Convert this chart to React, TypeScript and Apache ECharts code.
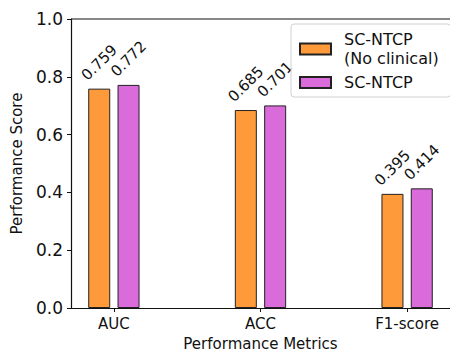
import React, { useEffect, useRef } from "react";
import * as echarts from "echarts";

const categories = ["AUC", "ACC", "F1-score"];
const noClinical = [0.759, 0.685, 0.395];
const scNtcp = [0.772, 0.701, 0.414];
const yTicks = [0, 0.2, 0.4, 0.6, 0.8, 1.0];
const seriesNames = ["SC-NTCP\n(No clinical)", "SC-NTCP"];

const FONT = "DejaVu Sans";
const X_MIN = -0.2925;
const X_MAX = 2.2925;

export default function App() {
  const ref = useRef<HTMLDivElement>(null);
  useEffect(() => {
    document.body.style.margin = "0";
    document.body.style.overflow = "hidden";
    if (!ref.current) return;
    const chart = echarts.init(ref.current, null, { renderer: "svg" });
    const offset = 0.1;
    const label = {
      show: true,
      position: "top",
      distance: 26,
      rotate: 45,
      align: "center",
      verticalAlign: "middle",
      fontFamily: FONT,
      fontSize: 15,
      color: "#111",
      formatter: (p: any) => p.value[1].toFixed(3),
    };
    chart.setOption({
      animation: false,
      backgroundColor: "#fff",
      grid: { left: 71, right: -3, top: 19, bottom: 43, containLabel: false },
      xAxis: {
        type: "value",
        min: X_MIN,
        max: X_MAX,
        name: "Performance Metrics",
        nameLocation: "middle",
        nameGap: 28,
        nameTextStyle: { fontFamily: FONT, fontSize: 15, color: "#111" },
        axisLine: { show: true, onZero: false, lineStyle: { color: "#111", width: 1.2 } },
        axisTick: { show: true, customValues: [0, 1, 2], length: 4, lineStyle: { color: "#111" } },
        axisLabel: {
          customValues: [0, 1, 2],
          formatter: (v: number) => categories[Math.round(v)] ?? "",
          fontFamily: FONT,
          fontSize: 15,
          color: "#111",
          margin: 8,
        },
        splitLine: { show: false },
      },
      yAxis: {
        type: "value",
        min: 0,
        max: 1,
        interval: 0.2,
        name: "Performance Score",
        nameLocation: "middle",
        nameGap: 47,
        nameTextStyle: { fontFamily: FONT, fontSize: 15, color: "#111" },
        axisLine: { show: true, onZero: false, lineStyle: { color: "#111", width: 1.2 } },
        axisTick: { show: true, length: 4, lineStyle: { color: "#111" } },
        axisLabel: {
          formatter: (v: number) => yTicks.find((t) => Math.abs(t - v) < 1e-9)?.toFixed(1) ?? "",
          fontFamily: FONT,
          fontSize: 17,
          color: "#111",
          margin: 8,
        },
        splitLine: { show: false },
      },
      legend: {
        orient: "vertical",
        left: 291,
        top: 24,
        padding: [6, 12, 5, 8],
        itemWidth: 31,
        itemHeight: 11,
        itemGap: 5,
        backgroundColor: "rgba(255,255,255,0.85)",
        borderColor: "#d0d0d0",
        borderWidth: 1,
        borderRadius: 3,
        textStyle: { fontFamily: FONT, fontSize: 16, color: "#111", lineHeight: 19, padding: [0, 0, 0, 8] },
        data: seriesNames.map((n) => ({ name: n, icon: "rect" })),
      },
      graphic: [
        {
          type: "line",
          shape: { x1: 71, y1: 19, x2: 450, y2: 19 },
          style: { stroke: "#111", lineWidth: 1.2 },
          silent: true,
        },
      ],
      series: [
        {
          name: seriesNames[0],
          type: "bar",
          barWidth: 22,
          barGap: "-100%",
          itemStyle: { color: "#FF9A3A", borderColor: "#222", borderWidth: 1 },
          label,
          data: noClinical.map((v, i) => [i - offset, v]),
        },
        {
          name: seriesNames[1],
          type: "bar",
          barWidth: 22,
          barGap: "-100%",
          itemStyle: { color: "#DA6BDA", borderColor: "#222", borderWidth: 1 },
          label,
          data: scNtcp.map((v, i) => [i + offset, v]),
        },
      ],
    });
    return () => chart.dispose();
  }, []);
  return (
    <div
      ref={ref}
      style={{ width: 450, height: 356, position: "absolute", left: 0, top: 0 }}
    />
  );
}
